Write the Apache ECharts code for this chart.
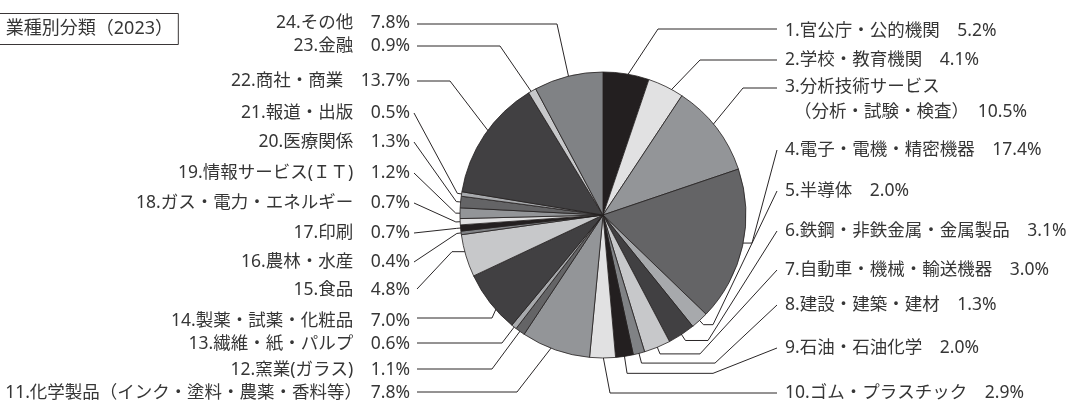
<!DOCTYPE html>
<html>
<head>
<meta charset="utf-8">
<script src="https://cdn.jsdelivr.net/npm/echarts@6/dist/echarts.min.js"></script>
<style>
  html, body { margin: 0; padding: 0; background: #ffffff; }
  #chart { width: 1068px; height: 405px; }
</style>
</head>
<body>
<div id="chart"></div>
<script>
// Industry breakdown, 2023 (share of total, %)
const categories = [
  '1.官公庁・公的機関',
  '2.学校・教育機関',
  '3.分析技術サービス\n  （分析・試験・検査）',
  '4.電子・電機・精密機器',
  '5.半導体',
  '6.鉄鋼・非鉄金属・金属製品',
  '7.自動車・機械・輸送機器',
  '8.建設・建築・建材',
  '9.石油・石油化学',
  '10.ゴム・プラスチック',
  '11.化学製品（インク・塗料・農薬・香料等）',
  '12.窯業(ガラス)',
  '13.繊維・紙・パルプ',
  '14.製薬・試薬・化粧品',
  '15.食品',
  '16.農林・水産',
  '17.印刷',
  '18.ガス・電力・エネルギー',
  '19.情報サービス(ＩＴ)',
  '20.医療関係',
  '21.報道・出版',
  '22.商社・商業',
  '23.金融',
  '24.その他'
];
const shares = [
  5.2, 4.1, 10.5, 17.4, 2.0, 3.1, 3.0, 1.3, 2.0, 2.9,
  7.8, 1.1, 0.6, 7.0, 4.8, 0.4, 0.7, 0.7, 1.2, 1.3,
  0.5, 13.7, 0.9, 7.8
];
const titleText = '業種別分類（2023）';

// Eight grey tones, repeated around the pie
const greys = ['#231f20', '#e1e1e2', '#939598', '#646466', '#a7a9ac', '#414042', '#c7c8ca', '#808285'];

const FONT = '"Noto Sans", "Noto Sans CJK JP", sans-serif';
const INK = '#363636';
const LINE = '#2a2627';

// Pie geometry
const PIE_CX = 603, PIE_CY = 215, PIE_R = 143;

// Label columns
const RIGHT_TEXT_X = 785, RIGHT_LINE_X = 777;
const LEFT_TEXT_X = 410, LEFT_LINE_X = 417, LEFT_DIAG_X = 414;

// Label placement per slice:
//  y: text centre, ly: where the leader meets the label,
//  kind A: bend at label height; B: level run at anchor height, then slope;
//  kind C: short radial tick, level run, then slope; D: radial tick, then straight to label
//  f: anchor depth inside the slice (fraction of radius), t: tick length (fraction of radius)
const slots = [
  { side: 'R', y: 31,  ly: 29,  kind: 'A', ex: 658, f: 0.97 },
  { side: 'R', y: 60,  ly: 60,  kind: 'A', ex: 700, f: 0.86 },
  { side: 'R', y: 100, ly: 88,  kind: 'A', ex: 743, f: 0.86 },
  { side: 'R', y: 150, ly: 150, kind: 'B', ex: 752, f: 0.9 },
  { side: 'R', y: 191, ly: 191, kind: 'C', ex: 713, f: 0.96, t: 1.04 },
  { side: 'R', y: 231, ly: 231, kind: 'C', ex: 708, f: 0.96, t: 1.05 },
  { side: 'R', y: 270, ly: 270, kind: 'C', ex: 700, f: 0.96, t: 1.05 },
  { side: 'R', y: 305, ly: 305, kind: 'C', ex: 715, f: 0.96, t: 1.07 },
  { side: 'R', y: 348, ly: 348, kind: 'C', ex: 713, f: 0.96, t: 1.12 },
  { side: 'R', y: 393, ly: 393, kind: 'A', ex: 610, f: 0.97 },
  { side: 'L', y: 393, ly: 392, kind: 'A', ex: 517, f: 0.9 },
  { side: 'L', y: 370, ly: 369, kind: 'A', ex: 492, f: 0.93 },
  { side: 'L', y: 344, ly: 343, kind: 'A', ex: 502, f: 0.9 },
  { side: 'L', y: 321, ly: 318, kind: 'A', ex: 492, f: 0.88 },
  { side: 'L', y: 290, ly: 289, kind: 'B', ex: 452, f: 0.9 },
  { side: 'L', y: 262, ly: 262, kind: 'D', f: 0.97, t: 1.03 },
  { side: 'L', y: 233, ly: 233, kind: 'D', f: 0.97, t: 1.03 },
  { side: 'L', y: 203, ly: 203, kind: 'D', f: 0.97, t: 1.03 },
  { side: 'L', y: 173, ly: 173, kind: 'D', f: 0.97, t: 1.03 },
  { side: 'L', y: 142, ly: 142, kind: 'D', f: 0.97, t: 1.03 },
  { side: 'L', y: 113, ly: 113, kind: 'D', f: 0.97, t: 1.03 },
  { side: 'L', y: 81,  ly: 81,  kind: 'A', ex: 450, f: 0.88 },
  { side: 'L', y: 46,  ly: 46,  kind: 'A', ex: 500, f: 0.9 },
  { side: 'L', y: 23,  ly: 24,  kind: 'A', ex: 557, f: 0.95 }
];

// Unit direction of a slice's middle, taken from the edge point the pie layout
// gives its label line (falls back to the running total of the shares).
function sliceDirection(idx, linePoints) {
  if (linePoints && linePoints.length) {
    const dx = linePoints[0][0] - PIE_CX;
    const dy = linePoints[0][1] - PIE_CY;
    const len = Math.sqrt(dx * dx + dy * dy) || 1;
    return [dx / len, dy / len];
  }
  const total = shares.reduce((a, b) => a + b, 0);
  let before = 0;
  for (let i = 0; i < idx; i++) before += shares[i];
  const ang = (before + shares[idx] / 2) / total * Math.PI * 2;
  return [Math.sin(ang), -Math.cos(ang)];
}

function leaderPoints(idx, linePoints) {
  const s = slots[idx];
  const d = sliceDirection(idx, linePoints);
  const anchor = [PIE_CX + d[0] * PIE_R * s.f, PIE_CY + d[1] * PIE_R * s.f];
  const endX = s.side === 'R' ? RIGHT_LINE_X : (s.kind === 'D' ? LEFT_DIAG_X : LEFT_LINE_X);
  const end = [endX, s.ly];
  if (s.kind === 'A') return [anchor, [s.ex, s.ly], end];
  if (s.kind === 'B') return [anchor, [s.ex, anchor[1]], end];
  const tick = [PIE_CX + d[0] * PIE_R * s.t, PIE_CY + d[1] * PIE_R * s.t];
  if (s.kind === 'C') return [anchor, tick, [s.ex, tick[1]], end];
  return [anchor, tick, end];
}

const chart = echarts.init(document.getElementById('chart'), null, { renderer: 'canvas' });

chart.setOption({
  animation: false,
  backgroundColor: '#ffffff',
  color: greys,
  title: {
    text: titleText,
    right: 1068 - 179,
    top: 13,
    padding: [6, 6, 6, 24],
    borderColor: '#3a3637',
    borderWidth: 1,
    textStyle: {
      fontFamily: FONT,
      fontSize: 18,
      fontWeight: 'normal',
      color: INK,
      lineHeight: 20
    }
  },
  series: [{
    type: 'pie',
    center: [PIE_CX, PIE_CY],
    radius: PIE_R,
    startAngle: 90,
    clockwise: true,
    avoidLabelOverlap: false,
    silent: true,
    data: categories.map((name, i) => ({ name: name, value: shares[i] })),
    itemStyle: { borderColor: '#231f20', borderWidth: 0.8 },
    label: {
      show: true,
      position: 'outside',
      fontFamily: FONT,
      fontSize: 17.5,
      lineHeight: 25,
      color: INK,
      formatter: p => p.name + '　' + p.value.toFixed(1) + '%'
    },
    labelLine: {
      show: true,
      length: 10,
      length2: 10,
      smooth: false,
      lineStyle: { color: LINE, width: 1 }
    },
    labelLayout: function (params) {
      const s = slots[params.dataIndex];
      const right = s.side === 'R';
      return {
        x: right ? RIGHT_TEXT_X : LEFT_TEXT_X,
        y: s.y,
        align: right ? 'left' : 'right',
        verticalAlign: 'middle',
        labelLinePoints: leaderPoints(params.dataIndex, params.labelLinePoints)
      };
    },
    emphasis: { disabled: true }
  }]
});
</script>
</body>
</html>
